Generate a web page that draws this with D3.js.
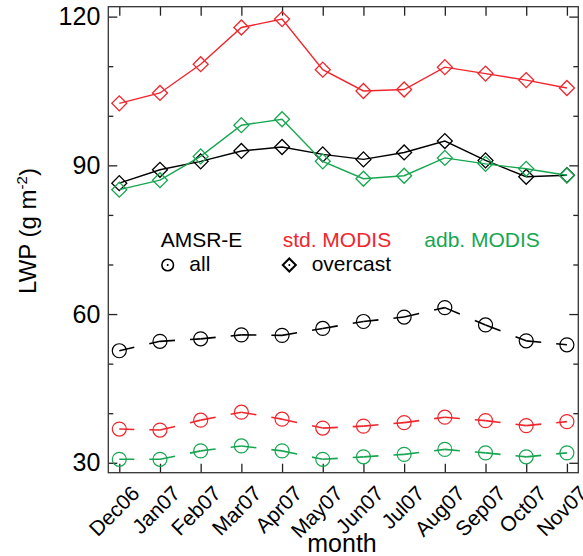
<html>
<script src="https://cdnjs.cloudflare.com/ajax/libs/d3/7.8.5/d3.min.js"></script>
<style>
body { margin: 0; background: #fff; }
text { font-family: "Liberation Sans", Arial, sans-serif; }
</style>
<body>
<svg width="583" height="556"></svg>
<script>
// months on the x axis
const months = ["Dec06","Jan07","Feb07","Mar07","Apr07","May07","Jun07","Jul07","Aug07","Sep07","Oct07","Nov07"];

// "all" scenes (circles, dashed)
const amsrAll = [52.6, 54.5, 55.0, 55.8, 55.7, 57.1, 58.5, 59.4, 61.3, 57.8, 54.6, 53.8];
const stdAll  = [36.8, 36.6, 38.6, 40.2, 38.8, 37.0, 37.4, 38.1, 39.2, 38.5, 37.5, 38.3];
const adbAll  = [30.7, 30.7, 32.4, 33.4, 32.4, 30.7, 31.2, 31.7, 32.7, 32.0, 31.2, 32.0];

// overcast scenes (diamonds, solid)
const amsrOvc = [86.4, 89.1, 90.8, 92.9, 93.7, 92.2, 91.2, 92.6, 94.9, 91.0, 87.7, 88.0];
const stdOvc  = [102.5, 104.6, 110.4, 117.8, 119.5, 109.3, 105.0, 105.3, 109.8, 108.5, 107.2, 105.6];
const adbOvc  = [85.1, 87.0, 91.8, 98.1, 99.3, 90.8, 87.3, 87.9, 91.5, 90.3, 89.3, 88.0];

const yMajor = [30, 60, 90, 120];
const yMinor = [40, 50, 70, 80, 100, 110];

const black = "#000", red = "#f0262d", green = "#17a650";

var svg = d3.select("svg");
var pL = 108.3, pR = 578.3, pT = 6.7, pB = 472.7;

var x = d3.scaleLinear().domain([-0.27, 11.28]).range([pL, pR]);
var y = d3.scaleLinear().domain([28, 122]).range([pB, pT]);

// axes: ticks point inward on all four sides
svg.append("g").attr("transform", "translate(" + pL + ",0)")
  .call(d3.axisLeft(y).tickValues(yMajor).tickSizeInner(-9).tickSizeOuter(0).tickPadding(8))
  .call(g => g.selectAll("text").attr("font-size", 25).attr("fill", "#000").attr("font-family", "Liberation Sans, Arial, sans-serif"));
svg.append("g").attr("transform", "translate(" + pL + ",0)")
  .call(d3.axisLeft(y).tickValues(yMinor).tickSizeInner(-5).tickSizeOuter(0).tickFormat(""));
svg.append("g").attr("transform", "translate(" + pR + ",0)")
  .call(d3.axisRight(y).tickValues(yMajor).tickSizeInner(-9).tickSizeOuter(0).tickFormat(""));
svg.append("g").attr("transform", "translate(" + pR + ",0)")
  .call(d3.axisRight(y).tickValues(yMinor).tickSizeInner(-5).tickSizeOuter(0).tickFormat(""));

svg.append("g").attr("transform", "translate(0," + pB + ")")
  .call(d3.axisBottom(x).tickValues(d3.range(months.length)).tickFormat(i => months[i]).tickSizeInner(-9).tickSizeOuter(0))
  .call(g => g.selectAll("text")
    .attr("font-size", 21).attr("fill", "#000").attr("font-family", "Liberation Sans, Arial, sans-serif")
    .attr("text-anchor", "end").attr("y", 0).attr("dy", null)
    .attr("transform", "translate(21,22) rotate(-45)"));
svg.append("g").attr("transform", "translate(0," + pT + ")")
  .call(d3.axisTop(x).tickValues(d3.range(months.length)).tickSizeInner(-9).tickSizeOuter(0).tickFormat(""));

svg.selectAll(".domain").remove();
svg.selectAll(".tick line").attr("stroke", "#222").attr("stroke-width", 1.3);

svg.append("rect")
  .attr("x", pL).attr("y", pT).attr("width", pR - pL).attr("height", pB - pT)
  .attr("fill", "none").attr("stroke", "#333").attr("stroke-width", 1.3);

// axis titles
svg.append("text").attr("x", 342).attr("y", 552).attr("text-anchor", "middle")
  .attr("font-size", 25).text("month");
var yt = svg.append("text").attr("transform", "translate(36,231) rotate(-90)")
  .attr("text-anchor", "middle").attr("font-size", 24);
yt.append("tspan").text("LWP (g m");
yt.append("tspan").attr("dy", -9).attr("font-size", 15).text("-2");
yt.append("tspan").attr("dy", 9).text(")");

var line = d3.line().x(d => x(d[0])).y(d => y(d[1]));
var diamond = d3.symbol().type(d3.symbolSquare).size(112);

// overcast: solid lines with diamonds
function overcast(vals, col) {
  var pts = vals.map((v, i) => [i, v]);
  svg.append("path").attr("d", line(pts)).attr("fill", "none")
    .attr("stroke", col).attr("stroke-width", 1.4);
  svg.append("g").selectAll("path").data(pts).enter().append("path")
    .attr("d", diamond)
    .attr("transform", d => "translate(" + x(d[0]) + "," + y(d[1]) + ") rotate(45)")
    .attr("fill", "none").attr("stroke", col).attr("stroke-width", 1.3);
}

// all: dashed segments centred on each circle
function allScenes(vals, col) {
  var pts = vals.map((v, i) => [i, v]);
  var segs = d3.pairs(pts);
  svg.append("g").selectAll("path").data(segs).enter().append("path")
    .attr("d", d => line(d)).attr("pathLength", 40.7)
    .attr("fill", "none").attr("stroke", col).attr("stroke-width", 1.6)
    .attr("stroke-dasharray", "15,15,10.7");
  svg.append("g").selectAll("circle").data(pts).enter().append("circle")
    .attr("cx", d => x(d[0])).attr("cy", d => y(d[1])).attr("r", 7)
    .attr("fill", "none").attr("stroke", col).attr("stroke-width", 1.2);
}

overcast(stdOvc, red);
overcast(amsrOvc, black);
overcast(adbOvc, green);
allScenes(amsrAll, black);
allScenes(stdAll, red);
allScenes(adbAll, green);

// legend
var lg = svg.append("g").attr("font-size", 21);
lg.append("text").attr("x", 160.7).attr("y", 247).attr("fill", black).text("AMSR-E");
lg.append("text").attr("x", 282.7).attr("y", 247).attr("fill", red).text("std. MODIS");
lg.append("text").attr("x", 424.3).attr("y", 247).attr("fill", green).text("adb. MODIS");
lg.append("circle").attr("cx", 167.7).attr("cy", 265).attr("r", 5.8)
  .attr("fill", "none").attr("stroke", "#000").attr("stroke-width", 1.6);
lg.append("circle").attr("cx", 167.7).attr("cy", 265).attr("r", 1).attr("fill", "#000");
lg.append("text").attr("x", 189.3).attr("y", 271).text("all");
lg.append("path").attr("d", d3.symbol().type(d3.symbolSquare).size(85))
  .attr("transform", "translate(289.3,265) rotate(45)")
  .attr("fill", "none").attr("stroke", "#000").attr("stroke-width", 2);
lg.append("circle").attr("cx", 289.3).attr("cy", 265).attr("r", 1).attr("fill", "#000");
lg.append("text").attr("x", 311.7).attr("y", 271).text("overcast");
</script>
</body>
</html>
